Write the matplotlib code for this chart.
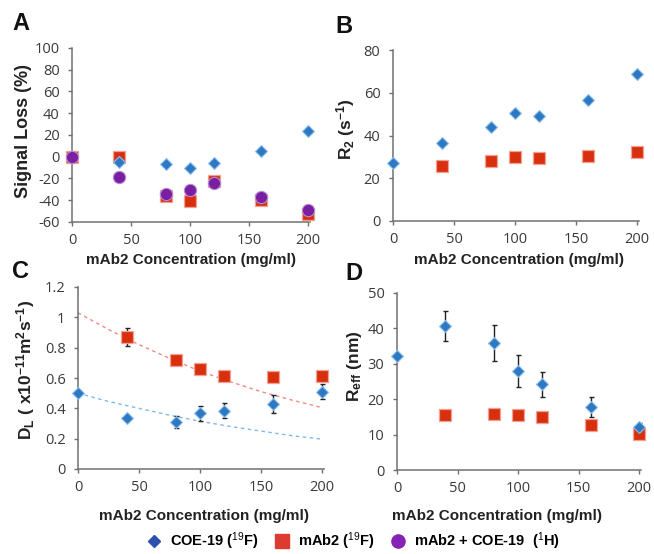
import matplotlib
matplotlib.use("Agg")
import matplotlib.pyplot as plt
from matplotlib.lines import Line2D
from matplotlib.ticker import FuncFormatter

# ---- data -------------------------------------------------------------
conc = [0, 40, 80, 100, 120, 160, 200]          # mAb2 concentration (mg/ml)
conc_mab = [40, 80, 100, 120, 160, 200]

# A: signal loss (%)
loss_coe = [0, -5, -7, -10, -6, 5, 24]
loss_mab = [0, 0, -36, -41, -22, -40, -53]
loss_mix = [0, -19, -34, -31, -24, -37, -49]

# B: transverse relaxation rate R2 (s^-1)
r2_coe = [27, 36.5, 44, 50.5, 49, 56.5, 69]
r2_mab = [25.5, 28, 30, 29.5, 30.5, 32.5]

# C: diffusion coefficient D_L (x10^-11 m^2 s^-1)
dl_coe = [0.50, 0.333, 0.311, 0.368, 0.383, 0.429, 0.51]
dl_coe_err = [0, 0, 0.04, 0.05, 0.05, 0.06, 0.05]
dl_mab = [0.87, 0.718, 0.661, 0.613, 0.609, 0.61]
dl_mab_err = [0.06, 0, 0, 0, 0, 0]

# C: model curves
fit_x = [0, 25, 50, 75, 100, 125, 150, 175, 200]
fit_mab = [1.03, 0.92, 0.82, 0.73, 0.645, 0.575, 0.51, 0.455, 0.405]
fit_coe = [0.50, 0.445, 0.40, 0.355, 0.315, 0.28, 0.25, 0.22, 0.197]

# D: effective radius R_eff (nm)
reff_coe = [32.1, 40.6, 35.9, 27.9, 24.2, 17.8, 12.2]
reff_coe_err = [0, 4.2, 5.2, 4.5, 3.6, 2.7, 1.0]
reff_mab = [15.5, 15.8, 15.6, 15.1, 12.6, 10.3]

xticks = [0, 50, 100, 150, 200]

# ---- style ------------------------------------------------------------
plt.rcParams["mathtext.fontset"] = "custom"
plt.rcParams["mathtext.rm"] = "Liberation Sans"
plt.rcParams["mathtext.bf"] = "Liberation Sans:bold"
plt.rcParams["mathtext.it"] = "Liberation Sans:italic"

BLUE = "#2e78c2"
BLUE_EDGE = "#8cc0ee"
RED = "#d8300f"
RED_EDGE = "#f4a090"
PURPLE = "#7a1fa2"
PURPLE_EDGE = "#b48ad0"
AXIS = "#707070"
TICKTXT = "#3a3a3a"

W, H = 654, 554
fig = plt.figure(figsize=(W / 100, H / 100), dpi=100)


def px_axes(left, right_at_200, top, bottom, xmax=202):
    width = (right_at_200 - left) / 200 * xmax
    return fig.add_axes([left / W, 1 - bottom / H, width / W, (bottom - top) / H])


def style(ax, ylim, yticks):
    ax.set_xlim(0, 202)
    ax.set_ylim(*ylim)
    ax.set_xticks(xticks)
    ax.set_yticks(yticks)
    ax.yaxis.set_major_formatter(FuncFormatter(lambda v, p: f"{v:g}"))
    for s in ("top", "right"):
        ax.spines[s].set_visible(False)
    for s in ("left", "bottom"):
        ax.spines[s].set_color(AXIS)
        ax.spines[s].set_linewidth(1.1)
    ax.tick_params(direction="out", length=3, width=1, color=AXIS,
                   labelcolor=TICKTXT, labelsize=10.5)
    ax.tick_params(axis="y", pad=6)
    ax.tick_params(axis="x", pad=5)
    for lab in ax.get_xticklabels() + ax.get_yticklabels():
        lab.set_fontfamily("Open Sans")


def labels(ax, xl, xl_pos, yl, yl_pos, ysize=12.5):
    ax.set_xlabel(xl, fontsize=11, fontweight="bold", family="Liberation Sans",
                  color="#222222")
    ax.set_ylabel(yl, fontsize=ysize, fontweight="bold", family="Liberation Sans",
                  color="#222222")
    ax.xaxis.label.set_va("center")
    ax.yaxis.label.set_va("center")
    ax.xaxis.set_label_coords(xl_pos[0] / W, 1 - xl_pos[1] / H, transform=fig.transFigure)
    ax.yaxis.set_label_coords(yl_pos[0] / W, 1 - yl_pos[1] / H, transform=fig.transFigure)


dia = dict(marker="D", ms=6.2, mfc=BLUE, mec=BLUE_EDGE, mew=0.8, ls="none",
           clip_on=False, zorder=4)
sq = dict(marker="s", ms=8.8, mfc=RED, mec=RED_EDGE, mew=0.9, ls="none",
          clip_on=False, zorder=3)
circ = dict(marker="o", ms=8.8, mfc=PURPLE, mec=PURPLE_EDGE, mew=0.8, ls="none",
            clip_on=False, zorder=5)
err = dict(fmt="none", ecolor="#222222", elinewidth=1, capsize=1.8, capthick=1,
           zorder=2, clip_on=False)

XL = "mAb2 Concentration (mg/ml)"

# A
axA = px_axes(72, 308, 48, 222)
style(axA, (-60, 100), range(-60, 101, 20))
axA.plot(conc, loss_mab, **sq)
axA.plot(conc, loss_coe, **dia)
axA.plot(conc, loss_mix, **circ)
labels(axA, XL, (191, 260), "Signal Loss (%)", (24, 131), ysize=13)

# B
axB = px_axes(393, 637, 50, 221)
style(axB, (0, 80), range(0, 81, 20))
axB.plot(conc_mab, r2_mab, **sq)
axB.plot(conc, r2_coe, **dia)
labels(axB, XL, (519, 260), r"R$_\mathbf{2}$ (s$^{\mathbf{-1}}$)", (346, 129))

# C
axC = px_axes(78, 322, 287, 469)
style(axC, (0, 1.2), [0, 0.2, 0.4, 0.6, 0.8, 1.0, 1.2])
axC.plot(fit_x, fit_mab, ls=(0, (2.5, 2.5)), lw=1, color="#f08a84", zorder=1)
axC.plot(fit_x, fit_coe, ls=(0, (2.5, 2.5)), lw=1, color="#80b8ec", zorder=1)
axC.errorbar(conc_mab, dl_mab, yerr=dl_mab_err, **err)
axC.errorbar(conc, dl_coe, yerr=dl_coe_err, **err)
axC.plot(conc_mab, dl_mab, **sq)
axC.plot(conc, dl_coe, **dia)
labels(axC, XL, (204, 516),
       r"D$_\mathbf{L}$ ( x10$^{\mathbf{-11}}$m$^\mathbf{2}$s$^\mathbf{-1}$)", (26, 370))

# D
axD = px_axes(397, 639, 293, 470)
style(axD, (0, 50), range(0, 51, 10))
axD.errorbar(conc, reff_coe, yerr=reff_coe_err, **err)
axD.plot(conc_mab, reff_mab, **sq)
axD.plot(conc, reff_coe, **dia)
labels(axD, XL, (497, 516), r"R$_{\mathbf{eff}}$ (nm)", (354, 366))

# panel letters
for letter, x, y in (("A", 12, 30), ("B", 335, 33), ("C", 12, 278), ("D", 345, 280)):
    fig.text(x / W, 1 - y / H, letter, fontsize=17, fontweight="bold",
             family="Liberation Sans", color="#111111", va="baseline", ha="left")

# shared legend
handles = [
    Line2D([], [], marker="D", ms=6.2, mfc="#2d4fae", mec="#2d4fae", ls="none"),
    Line2D([], [], marker="s", ms=9.5, mfc="#dd3b32", mec="#dd3b32", ls="none"),
    Line2D([], [], marker="o", ms=9.5, mfc="#8524b4", mec="#8524b4", ls="none"),
]
names = [r"COE-19 ($^{19}$F)", r"mAb2 ($^{19}$F)", r"mAb2 + COE-19  ($^{1}$H)"]
fig.legend(handles, names, loc="center", bbox_to_anchor=(353 / W, 1 - 541 / H),
           ncol=3, frameon=False, handlelength=1.0, handletextpad=0.6,
           columnspacing=1.1, prop=dict(family="Liberation Sans", weight="bold", size=10.5))

fig.savefig("out.png", dpi=100, facecolor="white")
